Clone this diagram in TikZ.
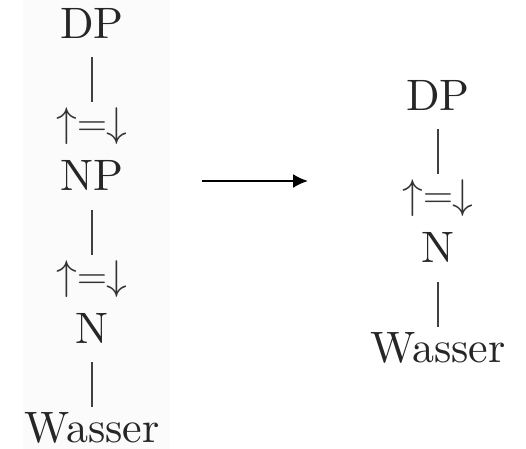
\documentclass[tikz,border=0pt]{standalone}
\usepackage{amsmath, amssymb}
\usepackage{fontspec}
\newfontfamily\treefont{lmroman10-regular}[Extension=.otf]
\usepackage{tikz}
\usetikzlibrary{arrows.meta, positioning}
\tikzset{
    cat/.style={inner sep=0pt, text=black!85, font=\treefont\fontsize{22}{26}\selectfont},
    annot/.style={inner sep=0pt, text=black!80, font=\fontsize{22}{26}\selectfont},
    branch/.style={draw=black!75, line width=0.7pt, shorten <=9.5pt, shorten >=2.5pt},
    trans/.style={line width=1pt, -{Latex[length=7.5pt, width=7pt]}}
}

\begin{document}
\begin{tikzpicture}[x=1pt, y=1pt, node distance=34.5pt]

    \useasboundingbox (0,0) rectangle (263,-224.5);
    \fill [black!1.5] (11.5,0) rectangle (85,-224.5);

    % Left tree
    \node (dpL) [cat] at (46,-11.5) {DP};
    \node (upL1) [annot, below=of dpL] {$\uparrow=\downarrow$};
    \node (npL) [cat, below=7.5pt of upL1] {NP};
    \node (upL2) [annot, below=of npL] {$\uparrow=\downarrow$};
    \node (nL) [cat, below=7.5pt of upL2] {N};
    \node (wL) [cat, below=of nL] {Wasser};

    % Right tree
    \node (dpR) [cat] at (219,-47.5) {DP};
    \node (upR) [annot, below=of dpR] {$\uparrow=\downarrow$};
    \node (nR) [cat, below=7.5pt of upR] {N};
    \node (wR) [cat, below=of nR] {Wasser};

    % Branches
    \draw [branch] (dpL) -- (upL1);
    \draw [branch] (npL) -- (upL2);
    \draw [branch] (nL) -- (wL);
    \draw [branch] (dpR) -- (upR);
    \draw [branch] (nR) -- (wR);

    % Arrow between the trees
    \coordinate (from) at (101,-90.5);
    \coordinate (to) at (154,-90.5);
    \draw [trans] (from) -- (to);

\end{tikzpicture}
\end{document}
